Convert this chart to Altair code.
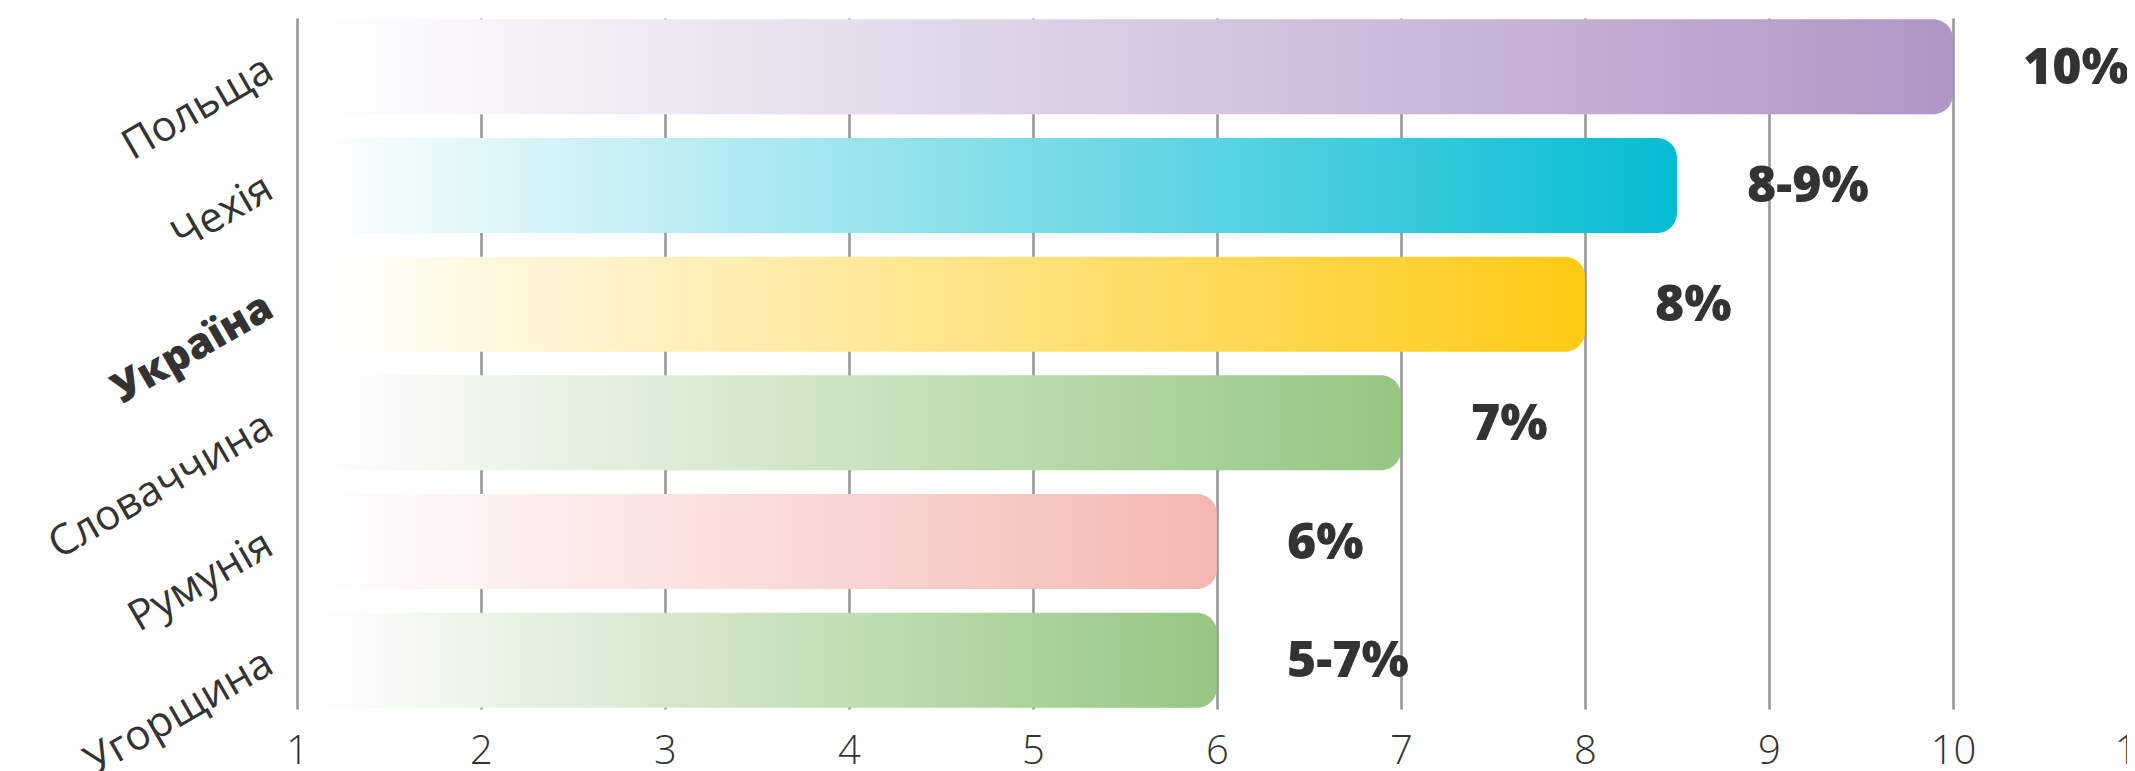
import altair as alt
import pandas as pd

countries = ["Польща", "Чехія", "Україна", "Словаччина", "Румунія", "Угорщина"]
values = [10, 8.5, 8, 7, 6, 6]
labels = ["10%", "8-9%", "8%", "7%", "6%", "5-7%"]
end_colors = ["#b096c6", "#05bcd3", "#ffca14", "#96c681", "#f4b8b2", "#96c681"]
x_ticks = list(range(1, 12))
BAR_START = 1.1

df = pd.DataFrame({"country": countries, "value": values, "label": labels,
                   "start": [BAR_START] * len(countries)})

FONT = "Open Sans"

xs = alt.Scale(domain=[1, 11], range=[0, 1840], nice=False, zero=False)
ys = alt.Scale(domain=countries, paddingInner=0.2, paddingOuter=0.01)

x_axis = alt.Axis(values=x_ticks, grid=True, gridColor="#949494", gridWidth=2.5,
                  domain=False, ticks=False, title=None, labelFont=FONT,
                  labelFontSize=40, labelFontWeight=300, labelColor="#333333",
                  labelPadding=22, labelFlush=False, labelOverlap=False)
y_axis = alt.Axis(domain=False, ticks=False, grid=False, title=None,
                  labelFont=FONT, labelFontSize=42, labelColor="#333333",
                  labelAngle=330, labelAlign="right", labelBaseline="middle",
                  labelPadding=28, labelLimit=400,
                  labelFontWeight=alt.ExprRef(expr="datum.value === 'Україна' ? 800 : 400"))

layers = []
for name, col in zip(countries, end_colors):
    grad = alt.LinearGradient(
        gradient="linear", x1=0, x2=1, y1=0, y2=0,
        stops=[alt.GradientStop(offset=0, color="#ffffff"),
               alt.GradientStop(offset=1, color=col)])
    layers.append(
        alt.Chart(df).transform_filter(alt.datum.country == name)
        .mark_bar(color=grad, cornerRadiusTopRight=20, cornerRadiusBottomRight=20)
        .encode(x=alt.X("start:Q", scale=xs, axis=x_axis),
                x2="value:Q",
                y=alt.Y("country:N", sort=countries, scale=ys, axis=y_axis))
    )

text = alt.Chart(df).mark_text(align="left", baseline="middle", dx=70, dy=2,
                               font=FONT, fontSize=50, fontWeight=800,
                               color="#333333").encode(
    x=alt.X("value:Q", scale=xs, axis=x_axis),
    y=alt.Y("country:N", sort=countries, scale=ys, axis=y_axis),
    text="label:N")

chart = alt.layer(*layers, text).properties(
    width=1830, height=691,
    autosize=alt.AutoSizeParams(type="none"),
    padding={"left": 289, "top": 10, "right": 0, "bottom": 64},
).configure_view(stroke=None)

chart.save("out.html", embed_options={"renderer": "svg", "actions": False})
